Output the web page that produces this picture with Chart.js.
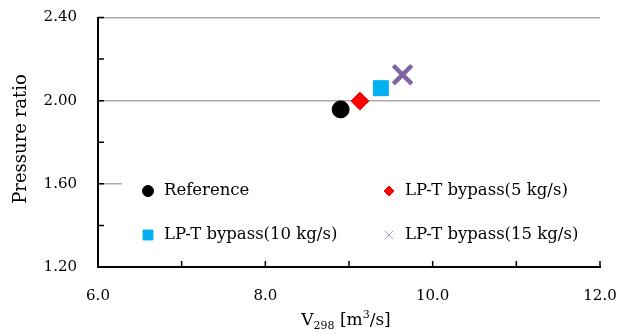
<!DOCTYPE html>
<html>
<head>
<meta charset="utf-8">
<script src="https://cdn.jsdelivr.net/npm/chart.js@4.4.1/dist/chart.umd.min.js"></script>
<style>
    html, body { margin: 0; padding: 0; background: #fff; }
    #wrap { width: 630px; height: 334px; position: relative; }
</style>
</head>
<body>
<div id="wrap"><canvas id="chart" width="630" height="334"></canvas></div>
<script>
// Chart data
const seriesNames = ['Reference', 'LP-T bypass(5 kg/s)', 'LP-T bypass(10 kg/s)', 'LP-T bypass(15 kg/s)'];
const flowX = [8.90, 9.13, 9.38, 9.64];          // V298 [m3/s]
const pressureY = [1.958, 1.998, 2.06, 2.125];   // Pressure ratio
const xTickLabels = ['6.0', '8.0', '10.0', '12.0'];
const yTickLabels = ['1.20', '1.60', '2.00', '2.40'];

const FONT = "'DejaVu Serif', 'Liberation Serif', serif";

// marker styles for each series (plot + legend)
const markers = [
    { style: 'circle', color: '#000000', radius: 8.5, legendRadius: 5.5, width: 1 },
    { style: 'rectRot', color: '#ff0000', radius: 9, legendRadius: 5, width: 1 },
    { style: 'rect', color: '#00b0f0', radius: 10.6, legendRadius: 7, width: 1 },
    { style: 'crossRot', color: '#8064a2', radius: 13, legendRadius: 6, width: 4.5, legendColor: '#a99bc6', legendWidth: 1.2 }
];

const datasets = seriesNames.map((name, i) => ({
    label: name,
    data: [{ x: flowX[i], y: pressureY[i] }],
    pointStyle: markers[i].style,
    pointRadius: markers[i].radius,
    pointHoverRadius: markers[i].radius,
    backgroundColor: markers[i].color,
    borderColor: markers[i].color,
    borderWidth: markers[i].width,
    showLine: false
}));

// white legend box inside the plot area, 2 x 2 grid
const legendBox = {
    id: 'legendBox',
    beforeDatasetsDraw(chart) {
        const ctx = chart.ctx;
        const area = chart.chartArea;
        ctx.save();
        ctx.fillStyle = '#ffffff';
        ctx.fillRect(122, 163, area.right - 122, 92);
        const cols = [148, 389];
        const rows = [191, 235];
        ctx.font = '16.5px ' + FONT;
        ctx.fillStyle = '#000';
        ctx.textBaseline = 'middle';
        chart.data.datasets.forEach((ds, i) => {
            const m = markers[i];
            const cx = cols[i % 2];
            const cy = rows[Math.floor(i / 2)];
            const col = m.legendColor || m.color;
            ctx.fillStyle = col;
            ctx.strokeStyle = col;
            Chart.helpers.drawPoint(ctx, {
                pointStyle: m.style,
                radius: m.legendRadius,
                rotation: 0,
                borderWidth: m.legendWidth || 1
            }, cx, cy);
            ctx.fillStyle = '#000';
            ctx.fillText(ds.label, cx + 16, cy);
        });
        ctx.restore();
    }
};

// inward tick marks and axis titles
const axisDecor = {
    id: 'axisDecor',
    afterDraw(chart) {
        const ctx = chart.ctx;
        const xs = chart.scales.x;
        const ys = chart.scales.y;
        const area = chart.chartArea;
        ctx.save();
        ctx.strokeStyle = '#000';
        ctx.lineWidth = 1.5;
        ctx.beginPath();
        xs.ticks.forEach(t => {
            const px = xs.getPixelForValue(t.value);
            ctx.moveTo(px, area.bottom);
            ctx.lineTo(px, area.bottom - 6);
        });
        ys.ticks.forEach(t => {
            const py = ys.getPixelForValue(t.value);
            ctx.moveTo(area.left, py);
            ctx.lineTo(area.left + 6, py);
        });
        ctx.stroke();

        // y title
        ctx.fillStyle = '#000';
        ctx.textAlign = 'center';
        ctx.textBaseline = 'middle';
        ctx.font = '18px ' + FONT;
        ctx.translate(21, 139);
        ctx.rotate(-Math.PI / 2);
        ctx.fillText('Pressure ratio', 0, 0);
        ctx.restore();

        // x title with sub/superscript
        ctx.save();
        ctx.fillStyle = '#000';
        ctx.textBaseline = 'alphabetic';
        ctx.textAlign = 'left';
        const parts = [
            { t: 'V', size: 17, dy: 0 },
            { t: '298', size: 11, dy: 4 },
            { t: ' [m', size: 17, dy: 0 },
            { t: '3', size: 11, dy: -7 },
            { t: '/s]', size: 17, dy: 0 }
        ];
        let total = 0;
        parts.forEach(p => {
            ctx.font = p.size + 'px ' + FONT;
            p.w = ctx.measureText(p.t).width;
            total += p.w;
        });
        let x = (area.left + area.right) / 2 - total / 2 - 3;
        const base = 325;
        parts.forEach(p => {
            ctx.font = p.size + 'px ' + FONT;
            ctx.fillText(p.t, x, base + p.dy);
            x += p.w;
        });
        ctx.restore();
    }
};

const ctx = document.getElementById('chart');
const chart = new Chart(ctx.getContext('2d'), {
    type: 'scatter',
    data: { datasets },
    options: {
        responsive: false,
        animation: false,
        layout: { padding: { top: 17, right: 30, left: 0, bottom: 0 } },
        plugins: {
            legend: { display: false },
            tooltip: { enabled: false }
        },
        scales: {
            x: {
                type: 'linear',
                min: 6,
                max: 12,
                afterFit(scale) {
                    scale.height = 67;
                    scale.paddingLeft = 0;
                    scale.paddingRight = 0;
                },
                ticks: {
                    stepSize: 1,
                    autoSkip: false,
                    maxRotation: 0,
                    padding: 12,
                    color: '#000',
                    font: { family: FONT, size: 15 },
                    callback: (v, i) => (i % 2 === 0 ? xTickLabels[i / 2] : '')
                },
                grid: { display: false },
                border: { display: true, color: '#000', width: 2 }
            },
            y: {
                type: 'linear',
                min: 1.2,
                max: 2.4,
                afterFit(scale) {
                    scale.width = 98;
                    scale.paddingTop = 0;
                    scale.paddingBottom = 0;
                },
                ticks: {
                    stepSize: 0.2,
                    autoSkip: false,
                    padding: 21,
                    color: '#000',
                    font: { family: FONT, size: 15 },
                    callback: (v, i) => (i % 2 === 0 ? yTickLabels[i / 2] : '')
                },
                grid: {
                    drawTicks: false,
                    lineWidth: 1.5,
                    color: c => (c.index % 2 === 0 && c.index > 0 ? '#aaaaaa' : 'rgba(0,0,0,0)')
                },
                border: { display: true, color: '#000', width: 2 }
            }
        }
    },
    plugins: [legendBox, axisDecor]
});
</script>
</body>
</html>
